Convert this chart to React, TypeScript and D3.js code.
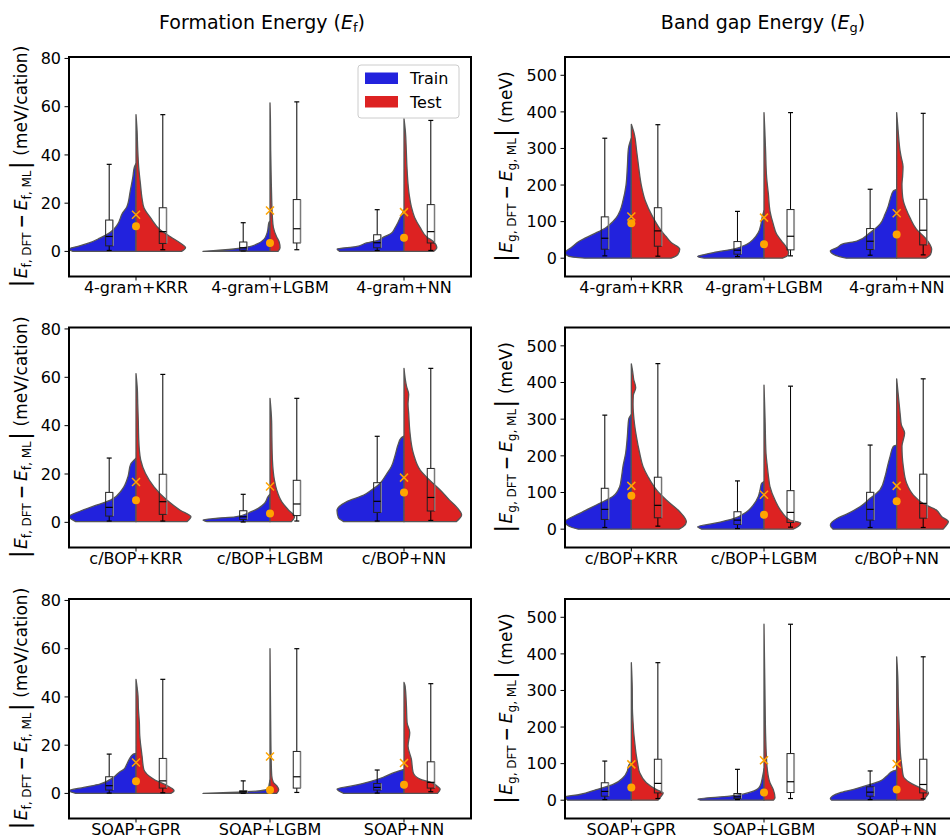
import React from "react";
import * as d3 from "d3";

type Kde = [number, number][]; // [value, half width in category units]
type Box = [number, number, number, number, number]; // whislo, q1, median, q3, whishi

// ---- categories ----
const labels4gram = ["4-gram+KRR", "4-gram+LGBM", "4-gram+NN"];
const labelsCbop = ["c/BOP+KRR", "c/BOP+LGBM", "c/BOP+NN"];
const labelsSoap = ["SOAP+GPR", "SOAP+LGBM", "SOAP+NN"];

const efTicks = [0, 20, 40, 60, 80];
const egTicks = [0, 100, 200, 300, 400, 500];

// ---- formation energy, 4-gram ----
const ef4gramTrainKde: Kde[] = [
  [[0, 0.47], [1, 0.5], [2, 0.44], [3.5, 0.35], [5.5, 0.27], [8, 0.19], [11, 0.14], [16, 0.1], [18.5, 0.068], [25, 0.043], [31, 0.023], [35, 0.012], [36.4, 0]],
  [[0, 0.5], [1, 0.27], [2, 0.15], [3, 0.1], [5, 0.045], [8, 0.02], [12, 0.008], [12.5, 0]],
  [[0, 0.48], [1, 0.5], [2, 0.36], [3.5, 0.28], [4.5, 0.2], [6, 0.15], [7.5, 0.095], [9.5, 0.07], [12, 0.045], [15, 0.02], [17.3, 0]],
];
const ef4gramTestKde: Kde[] = [
  [[0, 0.34], [1.5, 0.37], [3.5, 0.33], [6, 0.26], [9, 0.18], [14, 0.108], [18, 0.06], [22, 0.045], [28, 0.033], [35, 0.02], [42, 0.013], [50, 0.008], [56.7, 0]],
  [[0, 0.06], [1.5, 0.075], [4, 0.068], [6, 0.05], [10, 0.025], [14, 0.018], [21, 0.013], [30, 0.009], [42, 0.005], [55, 0.003], [61.6, 0]],
  [[0, 0.22], [1.5, 0.245], [4, 0.22], [6, 0.17], [10, 0.12], [14, 0.08], [18.5, 0.055], [23, 0.04], [28, 0.03], [35, 0.022], [42, 0.017], [50, 0.01], [55, 0]],
];
const ef4gramTrainBox: Box[] = [[0.4, 2.3, 6.2, 13, 36.1], [0.2, 0.5, 1.5, 3.9, 11.9], [0.4, 1.5, 3.6, 6.9, 17.3]];
const ef4gramTestBox: Box[] = [[0.7, 3.3, 8.2, 18.1, 56.7], [0.7, 3.5, 9.4, 21.5, 62], [0.4, 3.5, 8.2, 19.4, 54.3]];
const ef4gramTrainMean = [10.4, 3.5, 5.7];
const ef4gramTestMean = [15.2, 17, 16.3];

// ---- band gap, 4-gram ----
const eg4gramTrainKde: Kde[] = [
  [[0, 0.35], [5, 0.47], [15, 0.5], [30, 0.45], [47, 0.39], [65, 0.29], [84, 0.19], [100, 0.14], [111, 0.113], [130, 0.085], [157, 0.063], [200, 0.04], [250, 0.03], [300, 0.022], [328, 0]],
  [[0, 0.45], [5, 0.5], [10, 0.45], [15.5, 0.38], [25, 0.23], [38, 0.13], [52, 0.08], [70, 0.043], [93, 0.023], [115, 0.012], [130, 0]],
  [[0, 0.38], [8, 0.46], [20, 0.5], [29, 0.45], [40, 0.4], [47, 0.3], [70, 0.2], [93, 0.126], [120, 0.088], [143, 0.063], [160, 0.05], [184, 0.025], [188, 0]],
];
const eg4gramTestKde: Kde[] = [
  [[0, 0.3], [10, 0.35], [25, 0.365], [43, 0.3], [60, 0.26], [75, 0.226], [111, 0.164], [157, 0.105], [200, 0.075], [250, 0.055], [293, 0.04], [340, 0.022], [366, 0]],
  [[0, 0.14], [8, 0.18], [15.5, 0.185], [29, 0.17], [47, 0.133], [65, 0.096], [93, 0.07], [129, 0.045], [175, 0.033], [220, 0.02], [293, 0.012], [350, 0.006], [398, 0]],
  [[0, 0.22], [10, 0.255], [25, 0.264], [38, 0.25], [56, 0.214], [79, 0.15], [111, 0.1], [135, 0.07], [157, 0.05], [180, 0.042], [202, 0.04], [225, 0.045], [250, 0.048], [275, 0.035], [295, 0.025], [340, 0.013], [398, 0]],
];
const eg4gramTrainBox: Box[] = [[6.4, 24.6, 54.6, 113, 328], [4.5, 11, 21.9, 45.5, 128], [8.2, 23.7, 46.4, 81, 188.5]];
const eg4gramTestBox: Box[] = [[5.5, 32.8, 74.7, 138, 365], [6.4, 22.8, 60, 133, 398], [9.1, 36.4, 76.5, 161, 396]];
const eg4gramTrainMean = [95.6, 38.3, 64.7];
const eg4gramTestMean = [114, 111, 123];

// ---- formation energy, c/BOP ----
const efCbopTrainKde: Kde[] = [
  [[0.3, 0.45], [2.3, 0.5], [4.8, 0.41], [7.2, 0.29], [9.2, 0.19], [13.4, 0.106], [18.9, 0.06], [24, 0.04], [26.5, 0]],
  [[0.3, 0.47], [1, 0.5], [1.7, 0.39], [2.3, 0.26], [4.4, 0.14], [5.8, 0.088], [7.9, 0.04], [10.6, 0.015], [11.7, 0]],
  [[0.3, 0.45], [2, 0.49], [5, 0.5], [8.5, 0.43], [11.3, 0.3], [13.5, 0.24], [16.1, 0.18], [20, 0.13], [23, 0.095], [28, 0.065], [32, 0.045], [35, 0.02], [35.7, 0]],
];
const efCbopTestKde: Kde[] = [
  [[0.3, 0.38], [2.3, 0.41], [5, 0.33], [9.2, 0.23], [14.8, 0.133], [20.3, 0.07], [25.8, 0.035], [30, 0.025], [35, 0.02], [42, 0.017], [49, 0.013], [55, 0.01], [61.5, 0]],
  [[0.3, 0.16], [2.3, 0.183], [5.1, 0.138], [8.5, 0.088], [13.4, 0.05], [17.5, 0.033], [25.8, 0.018], [35, 0.014], [42, 0.012], [51.3, 0]],
  [[0.3, 0.39], [3, 0.43], [6.5, 0.39], [9.2, 0.34], [13.4, 0.27], [17.5, 0.19], [21.7, 0.12], [28.5, 0.07], [38, 0.043], [45, 0.035], [49, 0.03], [53, 0.035], [56, 0.02], [63.7, 0]],
];
const efCbopTrainBox: Box[] = [[0.55, 2.6, 6.2, 12.4, 26.6], [0.15, 1.2, 2.3, 4.8, 11.6], [0.55, 4.1, 8.7, 16.4, 35.6]];
const efCbopTestBox: Box[] = [[0.55, 3.3, 8.55, 19.9, 61.2], [0.55, 2.8, 7.6, 17.4, 51.3], [0.8, 4.7, 10.3, 22.3, 63.7]];
const efCbopTrainMean = [9.1, 3.7, 12.4];
const efCbopTestMean = [16.7, 14.8, 18.5];

// ---- band gap, c/BOP ----
const egCbopTrainKde: Kde[] = [
  [[0, 0.4], [8, 0.47], [20, 0.5], [43, 0.39], [66, 0.264], [89, 0.14], [116, 0.088], [140, 0.075], [171, 0.063], [207, 0.043], [253, 0.03], [300, 0.02], [313, 0]],
  [[0, 0.47], [6.4, 0.5], [15.5, 0.38], [29, 0.23], [47.5, 0.13], [66, 0.08], [89, 0.043], [110, 0.028], [125, 0.018], [130, 0]],
  [[0, 0.48], [11, 0.5], [29, 0.45], [41, 0.377], [61, 0.277], [84, 0.2], [107, 0.126], [143, 0.088], [170, 0.07], [198, 0.05], [226, 0.025], [229, 0]],
];
const egCbopTestKde: Kde[] = [
  [[0, 0.36], [6.4, 0.39], [20, 0.415], [47.5, 0.365], [79.5, 0.264], [107, 0.19], [143, 0.126], [171, 0.088], [207, 0.063], [253, 0.038], [299, 0.02], [340, 0.013], [365, 0.015], [386, 0.033], [408, 0.018], [430, 0.01], [451, 0]],
  [[0, 0.22], [8, 0.26], [17, 0.277], [25, 0.196], [47.5, 0.133], [79.5, 0.083], [116, 0.045], [140, 0.035], [171, 0.025], [207, 0.015], [300, 0.008], [393, 0]],
  [[0, 0.35], [6.4, 0.365], [20, 0.39], [34, 0.34], [52, 0.3], [70, 0.2], [93, 0.126], [125, 0.075], [171, 0.05], [200, 0.042], [226, 0.04], [262, 0.06], [285, 0.035], [308, 0.028], [363, 0.013], [410, 0]],
];
const egCbopTrainBox: Box[] = [[4.6, 26.5, 54, 111.5, 311], [1.8, 12.8, 24.7, 47.5, 131.6], [4.6, 24.7, 54, 100.5, 229.4]];
const egCbopTestBox: Box[] = [[8.2, 31, 65, 141.7, 451.5], [5.5, 18.3, 45.7, 105, 390], [4.6, 30, 70.4, 150, 410]];
const egCbopTrainMean = [91.4, 39.3, 76];
const egCbopTestMean = [118, 94, 118];

// ---- formation energy, SOAP ----
const efSoapTrainKde: Kde[] = [
  [[0, 0.45], [1.1, 0.5], [2.5, 0.39], [3.9, 0.27], [6.6, 0.17], [9, 0.12], [10, 0.09], [12, 0.07], [14.2, 0.05], [16.3, 0.02], [16.6, 0]],
  [[0, 0.5], [0.4, 0.3], [1.1, 0.07], [2, 0.015], [4, 0.005], [5.5, 0]],
  [[0, 0.45], [1.8, 0.5], [3.2, 0.38], [4.8, 0.26], [6.6, 0.16], [8.7, 0.07], [10, 0]],
];
const efSoapTestKde: Kde[] = [
  [[0, 0.26], [1.1, 0.284], [2, 0.27], [3.2, 0.234], [5.9, 0.133], [10, 0.058], [15.6, 0.045], [20, 0.035], [24, 0.028], [29.4, 0.025], [35, 0.018], [40.4, 0.015], [47.3, 0]],
  [[0, 0.05], [1.5, 0.065], [3.2, 0.05], [4.6, 0.025], [7.3, 0.013], [15.6, 0.008], [30, 0.005], [60, 0]],
  [[0, 0.25], [1.8, 0.27], [3.2, 0.244], [4.6, 0.2], [5.9, 0.12], [8.7, 0.068], [14.2, 0.055], [19.7, 0.03], [25.2, 0.043], [29.4, 0.023], [36.3, 0.018], [44.6, 0.008], [46, 0]],
];
const efSoapTrainBox: Box[] = [[0.14, 1.4, 3.2, 6.9, 16.3], [0, 0.28, 0.7, 1.1, 5.2], [0.14, 1.4, 2.5, 4.1, 9.7]];
const efSoapTestBox: Box[] = [[0.28, 2.2, 5.2, 14.5, 47.3], [0.4, 2.2, 6.9, 17.4, 60], [0.7, 2.2, 4.6, 13.1, 45.5]];
const efSoapTrainMean = [5, 1.4, 3.6];
const efSoapTestMean = [12.8, 15.3, 12.6];

// ---- band gap, SOAP ----
const egSoapTrainKde: Kde[] = [
  [[0, 0.48], [9, 0.5], [15.6, 0.39], [29, 0.264], [43, 0.138], [61.5, 0.063], [80, 0.03], [95, 0.02], [105, 0]],
  [[0, 0.48], [3, 0.5], [11, 0.26], [24.8, 0.08], [38.5, 0.03], [66, 0.01], [86, 0]],
  [[0, 0.49], [3.7, 0.5], [20, 0.43], [29, 0.33], [43, 0.2], [52, 0.126], [66, 0.075], [80, 0.025], [83, 0]],
];
const egSoapTestKde: Kde[] = [
  [[0, 0.2], [11, 0.226], [20, 0.24], [29, 0.19], [48, 0.113], [75, 0.063], [100, 0.048], [121, 0.038], [160, 0.025], [185, 0.018], [213, 0.013], [250, 0.008], [304, 0.007], [376, 0]],
  [[0, 0.07], [6.4, 0.083], [29, 0.07], [47.7, 0.045], [84, 0.025], [120, 0.018], [167, 0.013], [300, 0.007], [481, 0]],
  [[0, 0.2], [11, 0.226], [20, 0.24], [34, 0.176], [48, 0.1], [66, 0.05], [90, 0.04], [121, 0.03], [194, 0.02], [259, 0.013], [341, 0.008], [392, 0]],
];
const egSoapTrainBox: Box[] = [[1.8, 11, 24, 47.7, 107], [1.8, 4.6, 9.2, 18.3, 84.4], [1.8, 11, 22, 36.7, 80]];
const egSoapTestBox: Box[] = [[4.6, 20, 46, 112, 376], [4.6, 21, 50.5, 127.5, 481], [3.7, 20, 43, 112, 392]];
const egSoapTrainMean = [35, 21, 29.4];
const egSoapTestMean = [98, 109, 99];

// ---- layout ----
const W = 950;
const H = 839;
const cols = [
  { left: 69, right: 471 },
  { left: 565, right: 963 },
];
const rows = [
  { top: 57, bottom: 276.5 },
  { top: 327.5, bottom: 547.5 },
  { top: 599, bottom: 818.5 },
];
const blue = "#2222dd";
const red = "#dd2222";
const orange = "#ffa500";
const font = "DejaVu Sans";

const panels = [
  { row: 0, col: 0, kind: "f", labels: labels4gram, trK: ef4gramTrainKde, teK: ef4gramTestKde, trB: ef4gramTrainBox, teB: ef4gramTestBox, trM: ef4gramTrainMean, teM: ef4gramTestMean },
  { row: 0, col: 1, kind: "g", labels: labels4gram, trK: eg4gramTrainKde, teK: eg4gramTestKde, trB: eg4gramTrainBox, teB: eg4gramTestBox, trM: eg4gramTrainMean, teM: eg4gramTestMean },
  { row: 1, col: 0, kind: "f", labels: labelsCbop, trK: efCbopTrainKde, teK: efCbopTestKde, trB: efCbopTrainBox, teB: efCbopTestBox, trM: efCbopTrainMean, teM: efCbopTestMean },
  { row: 1, col: 1, kind: "g", labels: labelsCbop, trK: egCbopTrainKde, teK: egCbopTestKde, trB: egCbopTrainBox, teB: egCbopTestBox, trM: egCbopTrainMean, teM: egCbopTestMean },
  { row: 2, col: 0, kind: "f", labels: labelsSoap, trK: efSoapTrainKde, teK: efSoapTestKde, trB: efSoapTrainBox, teB: efSoapTestBox, trM: efSoapTrainMean, teM: efSoapTestMean },
  { row: 2, col: 1, kind: "g", labels: labelsSoap, trK: egSoapTrainKde, teK: egSoapTestKde, trB: egSoapTrainBox, teB: egSoapTestBox, trM: egSoapTrainMean, teM: egSoapTestMean },
];

// |E_x,DFT − E_x,ML| (unit), rotated
const YLabel = ({ kind, x, cy }: { kind: string; x: number; cy: number }) => (
  <text transform={`translate(${x},${cy}) rotate(-90)`} textAnchor="middle" fontSize={17} fontFamily={font}>
    <tspan fontSize={25} dy={1}>|</tspan>
    <tspan fontStyle="italic" dx={1} dy={-1}>E</tspan>
    <tspan fontSize={12} dy={4}>{kind}, DFT</tspan>
    <tspan dy={-4} dx={4} fontWeight="bold">−</tspan>
    <tspan dx={4} fontStyle="italic">E</tspan>
    <tspan fontSize={12} dy={4}>{kind}, ML</tspan>
    <tspan fontSize={25} dy={-3} dx={1}>|</tspan>
    <tspan dy={-1}> {kind === "f" ? "(meV/cation)" : "(meV)"}</tspan>
  </text>
);

const Panel = ({ p }: { p: (typeof panels)[number] }) => {
  const { left, right } = cols[p.col];
  const { top, bottom } = rows[p.row];
  const x = d3.scaleLinear().domain([-0.5, 2.5]).range([left, right]);
  const y = d3
    .scaleLinear()
    .domain(p.kind === "f" ? [-10.4, 80.6] : [-50, 550])
    .range([bottom, top]);
  const ticks = p.kind === "f" ? efTicks : egTicks;
  const halfViolin = (i: number, side: number) =>
    d3
      .area<[number, number]>()
      .curve(d3.curveMonotoneY)
      .y((d) => y(d[0]))
      .x0(() => x(i))
      .x1((d) => x(i + side * d[1]));
  const boxW = x(0.053) - x(0);
  const capW = boxW * 0.7;
  const drawBox = (b: Box, cx: number, key: string) => (
    <g key={key}>
      <line x1={cx} x2={cx} y1={y(b[0])} y2={y(b[1])} stroke="#000" strokeWidth={1} />
      <line x1={cx} x2={cx} y1={y(b[3])} y2={y(b[4])} stroke="#000" strokeWidth={1} />
      <line x1={cx - capW / 2} x2={cx + capW / 2} y1={y(b[0])} y2={y(b[0])} stroke="#000" strokeWidth={1.2} />
      <line x1={cx - capW / 2} x2={cx + capW / 2} y1={y(b[4])} y2={y(b[4])} stroke="#000" strokeWidth={1.2} />
      <rect x={cx - boxW / 2} y={y(b[3])} width={boxW} height={y(b[1]) - y(b[3])} fill="none" stroke="#222" strokeWidth={1} />
      <line x1={cx + boxW / 2 + 0.5} x2={cx + boxW / 2 + 0.5} y1={y(b[3])} y2={y(b[1])} stroke="#999" strokeWidth={1} />
      <line x1={cx - boxW / 2} x2={cx + boxW / 2} y1={y(b[2])} y2={y(b[2])} stroke="#000" strokeWidth={1.2} />
    </g>
  );
  return (
    <g>
      {p.labels.map((_, i) => (
        <g key={`v${i}`}>
          <path d={halfViolin(i, -1)(p.trK[i]) || ""} fill={blue} stroke="#555" strokeWidth={1.3} strokeLinejoin="round" />
          <path d={halfViolin(i, 1)(p.teK[i]) || ""} fill={red} stroke="#555" strokeWidth={1.3} strokeLinejoin="round" />
        </g>
      ))}
      {p.labels.map((_, i) => drawBox(p.trB[i], x(i - 0.2), `bt${i}`))}
      {p.labels.map((_, i) => drawBox(p.teB[i], x(i + 0.2), `be${i}`))}
      {p.labels.map((_, i) => (
        <g key={`m${i}`}>
          <circle cx={x(i)} cy={y(p.trM[i])} r={4} fill={orange} />
          <path
            d={`M${x(i) - 4},${y(p.teM[i]) - 4}L${x(i) + 4},${y(p.teM[i]) + 4}M${x(i) - 4},${y(p.teM[i]) + 4}L${x(i) + 4},${y(p.teM[i]) - 4}`}
            stroke={orange}
            strokeWidth={1.5}
            fill="none"
          />
        </g>
      ))}
      <rect x={left} y={top} width={right - left} height={bottom - top} fill="none" stroke="#000" strokeWidth={2} />
      {ticks.map((t) => (
        <g key={`yt${t}`}>
          <line x1={left - 4.5} x2={left} y1={y(t)} y2={y(t)} stroke="#000" strokeWidth={1} />
          <text x={left - 8} y={y(t)} dy="0.36em" textAnchor="end" fontSize={16} fontFamily={font}>
            {t}
          </text>
        </g>
      ))}
      {p.labels.map((l, i) => (
        <g key={`xt${i}`}>
          <line x1={x(i)} x2={x(i)} y1={bottom} y2={bottom + 4} stroke="#000" strokeWidth={1} />
          <text x={x(i)} y={bottom + 16.5} textAnchor="middle" fontSize={16} fontFamily={font}>
            {l}
          </text>
        </g>
      ))}
      <YLabel kind={p.kind} x={p.col === 0 ? 27 : 512} cy={(top + bottom) / 2} />
    </g>
  );
};

export default function App() {
  return (
    <div style={{ position: "absolute", left: 0, top: 0, width: W, height: H, background: "#fff" }}>
      <svg width={W} height={H} style={{ display: "block" }}>
        <rect width={W} height={H} fill="#fff" />
        <text x={262} y={29} textAnchor="middle" fontSize={19} fontFamily={font}>
          Formation Energy (<tspan fontStyle="italic">E</tspan>
          <tspan fontSize={13} dy={3}>f</tspan>
          <tspan dy={-3}>)</tspan>
        </text>
        <text x={763} y={29} textAnchor="middle" fontSize={19} fontFamily={font}>
          Band gap Energy (<tspan fontStyle="italic">E</tspan>
          <tspan fontSize={13} dy={3}>g</tspan>
          <tspan dy={-3}>)</tspan>
        </text>
        {panels.map((p, k) => (
          <Panel key={k} p={p} />
        ))}
        {/* legend */}
        <g fontFamily={font} fontSize={16}>
          <rect x={358} y={65} width={101} height={53} rx={3} fill="#fff" fillOpacity={0.8} stroke="#ccc" strokeWidth={1} />
          <rect x={365} y={72.5} width={33} height={11.5} fill={blue} />
          <rect x={365} y={96} width={33} height={11.5} fill={red} />
          <text x={410} y={84}>Train</text>
          <text x={410} y={108}>Test</text>
        </g>
      </svg>
    </div>
  );
}
